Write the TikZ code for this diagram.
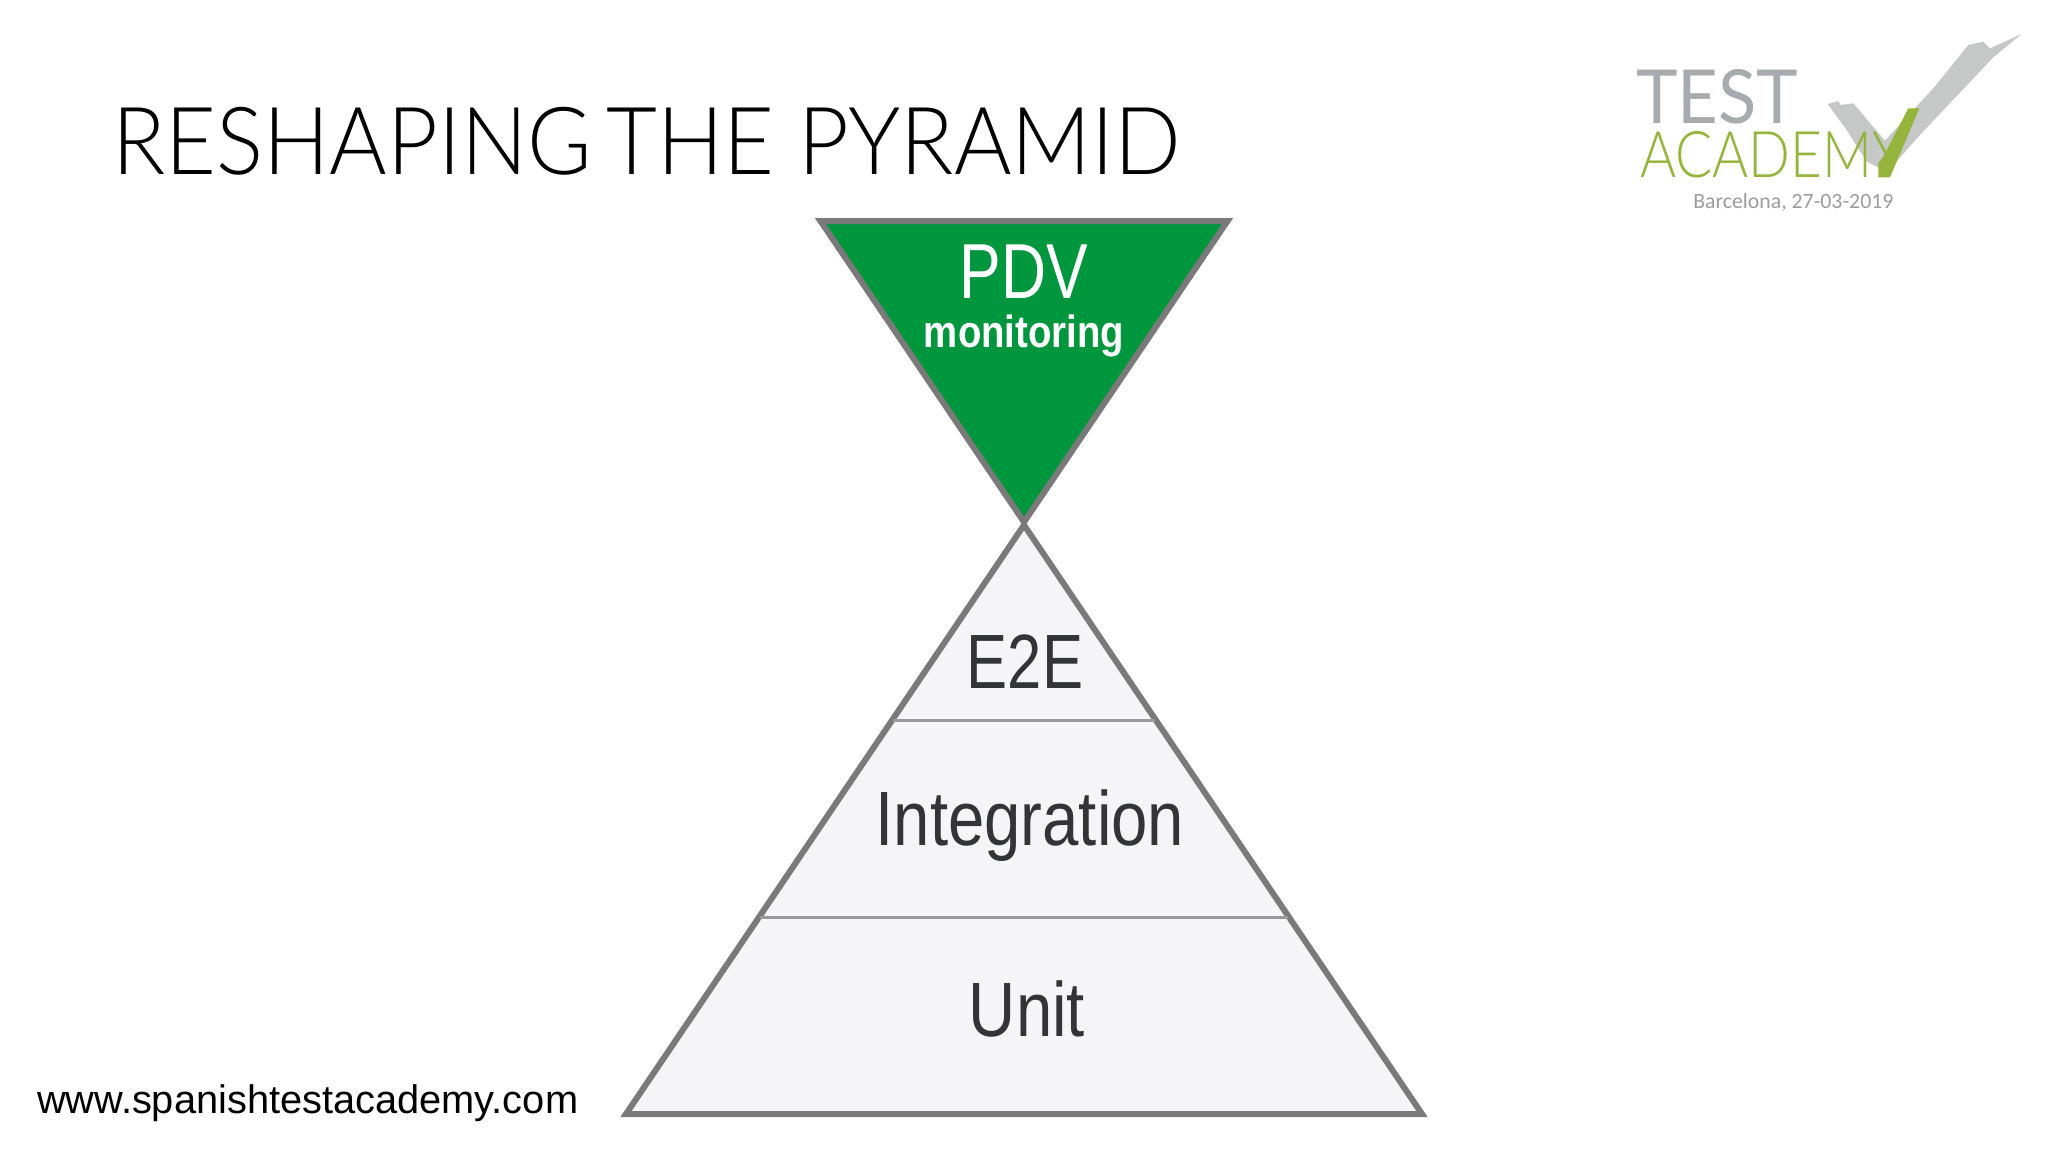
\documentclass[tikz,border=0pt]{standalone}
\usepackage{fontspec}
\usepackage{graphicx}
\setmainfont{Liberation Sans}
\newfontfamily\titlefont[FakeStretch=0.935]{Lato Light}
\newfontfamily\labfont[FakeStretch=0.8]{Liberation Sans}
\newfontfamily\logofont{Lato}
\newfontfamily\logolight{Lato Light}
\newfontfamily\datefont{Carlito}
\definecolor{edgegray}{HTML}{7A7A7A}
\definecolor{divgray}{HTML}{9A9A9A}
\definecolor{pdvgreen}{HTML}{00963E}
\definecolor{pyrfill}{HTML}{F5F5F7}
\definecolor{labink}{HTML}{333438}
\definecolor{logogray}{HTML}{A7ABAF}
\definecolor{logogreen}{HTML}{95B43C}
\definecolor{brushgray}{HTML}{C6C7C7}
\definecolor{dategray}{HTML}{9A9C9E}
\tikzset{
  tri/.style={draw=edgegray,line width=6pt,miter limit=10,line join=miter},
  divider/.style={draw=divgray,line width=3pt},
  txt/.style={inner sep=0pt,outer sep=0pt,anchor=base},
  lab/.style={txt,text=labink,font=\labfont\fontsize{77}{77}\selectfont},
}
\begin{document}
\begin{tikzpicture}[x=1pt,y=-1pt]
\useasboundingbox (0,0) rectangle (2048,1152);
\fill[white] (0,0) rectangle (2048,1152);
% title
\node[txt,anchor=base west,font=\titlefont\fontsize{94}{94}\selectfont,text=black] (title) at (112,174) {RESHAPING\hspace{-0.1em} THE PYRAMID};
% url
\node[txt,anchor=base west,font=\fontsize{39.8}{40}\selectfont,text=black] (url) at (37,1113) {www.spanishtestacademy.com};
% top triangle
\coordinate (tl) at (820.5,221);
\coordinate (tr) at (1227.5,221);
\coordinate (ta) at (1024,522);
\filldraw[tri,fill=pdvgreen] (tl) -- (tr) -- (ta) -- cycle;
% pyramid
\coordinate (pa) at (1024,525);
\coordinate (pl) at (626,1114);
\coordinate (pr) at (1422,1114);
\filldraw[tri,fill=pyrfill] (pa) -- (pl) -- (pr) -- cycle;
\coordinate (d1l) at (893,720);
\coordinate (d1r) at (1155,720);
\coordinate (d2l) at (760,917);
\coordinate (d2r) at (1288,917);
\draw[divider] (d1l) -- (d1r);
\draw[divider] (d2l) -- (d2r);
% labels
\node[txt,text=white,font=\labfont\fontsize{78}{78}\selectfont] (pdv) at (1024,298) {PDV};
\node[txt,text=white,font=\labfont\bfseries\fontsize{45}{45}\selectfont] (mon) at (1024,347) {\scalebox{1.065}[1]{monitoring}};
\node[lab] (e2e) at (1025,688) {E2E};
\node[lab] (integ) at (1030,845) {\scalebox{1.06}[1]{Integration}};
\node[lab] (unit) at (1027,1036) {\scalebox{1.06}[1]{Unit}};
% logo
\begin{scope}[shift={(1600,20)},x=0.3333pt,y=-0.3333pt]
\fill[brushgray] (683,252) -- (715,243) -- (722,255) -- (760,250) -- (855,362) -- (1000,205) -- (1105,75) -- (1150,65) -- (1170,85) -- (1265,42) -- (1180,112) -- (1040,260) -- (960,345) -- (862,455) -- (800,425) -- (740,330) -- cycle;
\node[txt,anchor=base west,text=logogray] (test) at (108,310) {\resizebox{162pt}{54pt}{\logofont TEST}};
\node[txt,anchor=base west,text=logogreen] (acad) at (120,472) {\resizebox{265pt}{46pt}{\logolight ACADEMY}};
\fill[logogreen] (850,410) -- (925,265) -- (958,265) -- (870,472) -- (835,472) -- (835,430) -- cycle;
\node[txt,anchor=base west,text=dategray] (bcn) at (280,565) {\resizebox{200pt}{!}{\datefont Barcelona, 27-03-2019}};
\end{scope}
\end{tikzpicture}
\end{document}
